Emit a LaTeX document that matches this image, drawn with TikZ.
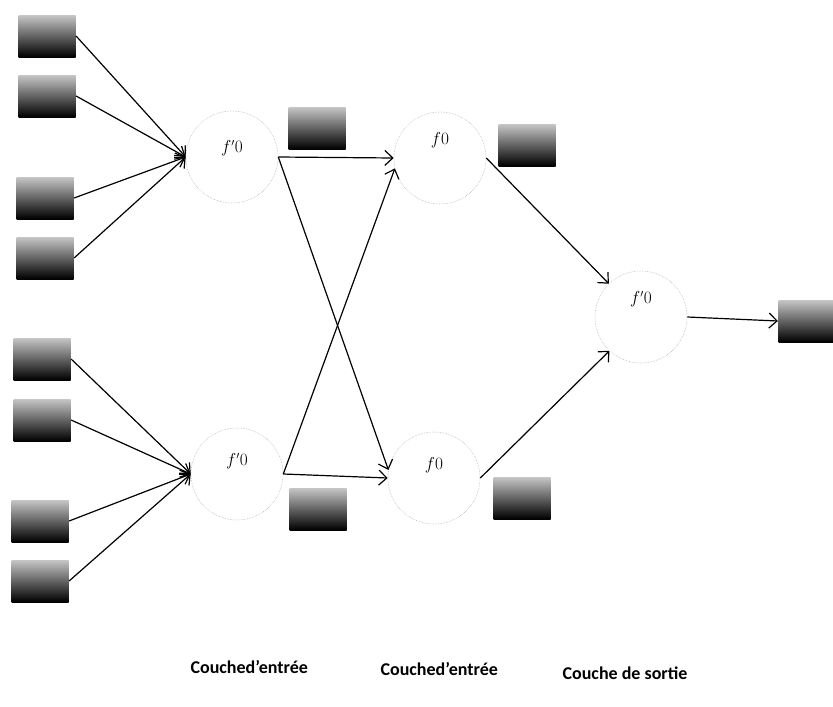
\documentclass[tikz,border=0pt]{standalone}
\usepackage{fontspec}
\newfontfamily\layerfont{Carlito}
\usetikzlibrary{arrows.meta,positioning}

\begin{document}
\begin{tikzpicture}[x=1pt,y=-1pt,line width=1.2pt,
  >={Straight Barb[length=8pt,width=15pt]},
  neuron/.style={circle,draw=gray!55,densely dotted,line width=0.6pt,minimum size=92pt,inner sep=0pt},
  unit/.style={rectangle,minimum width=57pt,minimum height=42pt,inner sep=0pt,
    top color=gray!45,middle color=black!90,bottom color=black},
  fname/.style={font=\fontsize{16}{16}\selectfont,inner sep=0pt},
  layer/.style={font=\layerfont\bfseries\fontsize{18}{22}\selectfont,anchor=base west,inner sep=0pt}]
 \useasboundingbox (0,0) rectangle (833,707);
 % entrees
 \node[unit] (x1) at (47,36) {};
 \node[unit] (x2) at (47,96) {};
 \node[unit] (x3) at (45,198) {};
 \node[unit] (x4) at (45,258) {};
 \node[unit] (x5) at (42,359) {};
 \node[unit] (x6) at (42,420) {};
 \node[unit] (x7) at (40,521) {};
 \node[unit] (x8) at (40,581) {};
 % neurones
 \node[neuron] (h1) at (232,157) {};
 \node[neuron] (h2) at (440,158) {};
 \node[neuron] (h3) at (237,474) {};
 \node[neuron] (h4) at (434,478) {};
 \node[neuron] (out) at (641,317) {};
 \node[fname] (h1f) at ([yshift=9pt]h1.center) {$f'0$};
 \node[fname] (h2f) at ([yshift=18pt]h2.center) {$f0$};
 \node[fname] (h3f) at ([yshift=13pt]h3.center) {$f'0$};
 \node[fname] (h4f) at ([yshift=13pt]h4.center) {$f0$};
 \node[fname] (outf) at ([yshift=18pt]out.center) {$f'0$};
 % sorties
 \node[unit] (s1) at (317,128) {};
 \node[unit] (s2) at (527,145) {};
 \node[unit] (s3) at (318,509) {};
 \node[unit] (s4) at (522,498) {};
 \node[unit,minimum width=55pt] (y) at (806,321) {};
 \path[->]
  (x1.east) edge (h1.west)
  (x2.east) edge (h1.west)
  (x3.east) edge (h1.west)
  (x4.east) edge (h1.west)
  (x5.east) edge (h3.west)
  (x6.east) edge (h3.west)
  (x7.east) edge (h3.west)
  (x8.east) edge (h3.west)
  (h1.east) edge (h2.west)
  (h1.east) edge (h4.170)
  (h3.east) edge (h2.193)
  (h3.east) edge (h4.west)
  (h2.east) edge (out.134)
  (h4.east) edge (out.227)
  (out.east) edge (y.west);
 % couches
 \node[layer] (c1) at (190,673) {Couched’entrée};
 \node[layer] (c2) at (380,675) {Couched’entrée};
 \node[layer] (c3) at (562,679) {Couche de sortie};
\end{tikzpicture}
\end{document}
